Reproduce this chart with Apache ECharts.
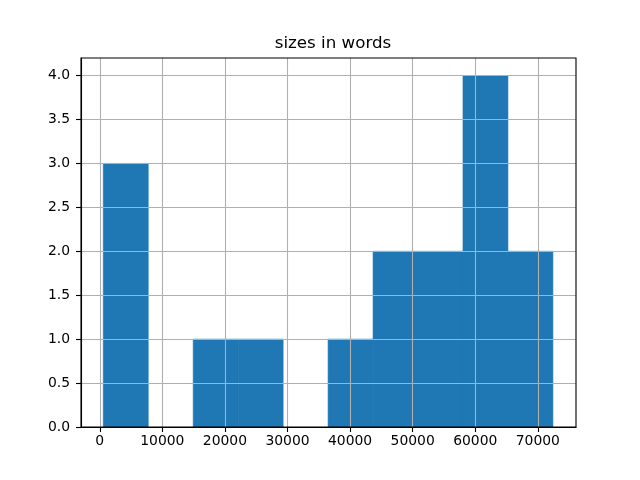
<!DOCTYPE html>
<html>
<head>
<meta charset="utf-8">
<script src="https://cdn.jsdelivr.net/npm/echarts@6/dist/echarts.min.js"></script>
<style>html,body{margin:0;padding:0;background:#fff}#c{width:640px;height:480px}</style>
</head>
<body>
<div id="c"></div>
<script>
const chartTitle = "sizes in words";
const binEdges = [560, 7745, 14930, 22115, 29300, 36485, 43670, 50855, 58040, 65225, 72410];
const counts = [3, 0, 1, 1, 0, 1, 2, 2, 4, 2];
const xTicks = [0, 10000, 20000, 30000, 40000, 50000, 60000, 70000];
const yTicks = [0, 0.5, 1, 1.5, 2, 2.5, 3, 3.5, 4];

const data = counts.map((c, i) => [binEdges[i], binEdges[i + 1], c]);
const font = 'DejaVu Sans';
const chart = echarts.init(document.getElementById('c'), null, {renderer: 'canvas'});
chart.setOption({
  animation: false,
  backgroundColor: '#ffffff',
  title: {text: chartTitle, left: 328, top: 30, textAlign: 'center',
    textStyle: {fontFamily: font, fontSize: 16.7, fontWeight: 'normal', color: '#000'}},
  grid: {left: 81, right: 64, top: 58, bottom: 53, show: true, borderColor: '#000', borderWidth: 1.1, backgroundColor: 'transparent', z: 6},
  xAxis: {
    type: 'value', min: -3000, max: 76100, z: 5,
    axisLine: {show: true, onZero: false, lineStyle: {color: '#000', width: 1.1}},
    axisTick: {show: true, customValues: xTicks, length: 5, lineStyle: {color: '#000', width: 1.1}},
    axisLabel: {customValues: xTicks, margin: 7, color: '#000', fontFamily: font, fontSize: 13.9, formatter: v => String(v)},
    splitLine: {show: true, lineStyle: {color: '#b0b0b0', width: 1.1}}
  },
  yAxis: {
    type: 'value', min: 0, max: 4.2, z: 5,
    axisLine: {show: true, onZero: false, lineStyle: {color: '#000', width: 1.1}},
    axisTick: {show: true, customValues: yTicks, length: 5, lineStyle: {color: '#000', width: 1.1}},
    axisLabel: {customValues: yTicks, margin: 11, color: '#000', fontFamily: font, fontSize: 13.9, formatter: v => v.toFixed(1)},
    splitLine: {show: true, lineStyle: {color: '#b0b0b0', width: 1.1}}
  },
  series: [{
    type: 'custom', z: 2,
    data: data,
    encode: {x: [0, 1], y: 2},
    renderItem: function (params, api) {
      if (!api.value(2)) return null;
      const p0 = api.coord([api.value(0), api.value(2)]);
      const p1 = api.coord([api.value(1), 0]);
      return {type: 'rect', shape: {x: p0[0], y: p0[1], width: p1[0] - p0[0], height: p1[1] - p0[1]},
        style: {fill: '#1f77b4', stroke: '#1f77b4', lineWidth: 0.6}};
    }
  }]
});
</script>
</body>
</html>
